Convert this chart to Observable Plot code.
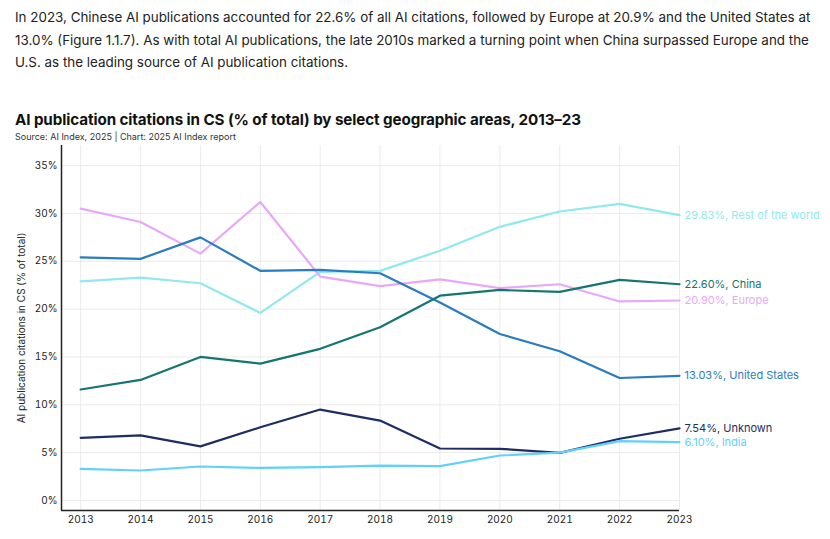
<!DOCTYPE html>
<html>
<head>
<meta charset="utf-8">
<script src="https://cdn.jsdelivr.net/npm/d3@7"></script>
<script src="https://cdn.jsdelivr.net/npm/@observablehq/plot@0.6"></script>
<style>
  body { margin: 0; background: #fff; font-family: Inter, "Open Sans", sans-serif; color: #222; }
  #para { position: absolute; left: 15px; top: 6px; width: 815px; font-size: 13.4px; line-height: 22.5px; color: #222; white-space: nowrap; }
  #title { position: absolute; left: 15px; top: 110px; font-size: 15.2px; font-weight: 700; color: #111; letter-spacing: -0.1px; }
  #source { position: absolute; left: 15px; top: 131px; font-size: 9px; color: #333; }
  #chart { position: absolute; left: 0; top: 143px; }
</style>
</head>
<body>
<div id="para">In 2023, Chinese AI publications accounted for 22.6% of all AI citations, followed by Europe at 20.9% and the United States at<br>13.0% (Figure 1.1.7). As with total AI publications, the late 2010s marked a turning point when China surpassed Europe and the<br>U.S. as the leading source of AI publication citations.</div>
<div id="title">AI publication citations in CS (% of total) by select geographic areas, 2013–23</div>
<div id="source">Source: AI Index, 2025 | Chart: 2025 AI Index report</div>
<div id="chart"></div>
<script>
const years = [2013, 2014, 2015, 2016, 2017, 2018, 2019, 2020, 2021, 2022, 2023];
const restOfWorld = [22.9, 23.3, 22.7, 19.6, 23.9, 24.0, 26.1, 28.6, 30.2, 31.0, 29.83];
const europe      = [30.5, 29.1, 25.8, 31.2, 23.4, 22.4, 23.1, 22.2, 22.6, 20.8, 20.90];
const unitedStates= [25.4, 25.25, 27.5, 24.0, 24.1, 23.75, 20.7, 17.4, 15.6, 12.8, 13.03];
const china       = [11.6, 12.6, 15.0, 14.3, 15.85, 18.1, 21.4, 22.0, 21.8, 23.05, 22.60];
const unknown     = [6.55, 6.8, 5.65, 7.65, 9.5, 8.35, 5.43, 5.4, 4.98, 6.45, 7.54];
const india       = [3.3, 3.13, 3.55, 3.4, 3.48, 3.65, 3.58, 4.7, 5.0, 6.2, 6.10];
const seriesNames = ["Rest of the world", "Europe", "United States", "China", "Unknown", "India"];
const seriesValues = [restOfWorld, europe, unitedStates, china, unknown, india];
const seriesColors = ["#8fe9ef", "#e8a8f9", "#2a7cc0", "#157571", "#1e2d62", "#62d0ff"];
const yTicks = [0, 5, 10, 15, 20, 25, 30, 35];

const data = seriesNames.flatMap((name, i) =>
  years.map((year, j) => ({ name, year, value: seriesValues[i][j] })));
const last = seriesNames.map((name, i) => ({ name, year: years[years.length - 1], value: seriesValues[i][years.length - 1] }));

const xDomain = [2012.68, 2023];
const yDomain = [-1.05, 37.1];

const chart = Plot.plot({
  width: 830,
  height: 390,
  marginLeft: 61,
  marginRight: 151,
  marginTop: 2,
  marginBottom: 23,
  style: { fontFamily: "Inter, 'Open Sans', sans-serif", fontSize: "10px", color: "#222", background: "#fff" },
  x: { type: "linear", domain: xDomain },
  y: { domain: yDomain },
  color: { domain: seriesNames, range: seriesColors },
  marks: [
    Plot.gridX(years, { stroke: "#e6e6e6", strokeOpacity: 1, strokeWidth: 0.8 }),
    Plot.gridY(yTicks, { stroke: "#e6e6e6", strokeOpacity: 1, strokeWidth: 0.8 }),
    Plot.axisX(years, { tickSize: 0, tickPadding: 5, tickFormat: d => String(d), label: null, fontSize: 10, fill: "#222" }),
    Plot.axisY(yTicks, { tickSize: 0, tickPadding: 4, tickFormat: d => d + "%", label: "AI publication citations in CS (% of total)", labelAnchor: "center", labelArrow: "none", labelOffset: 44, fontSize: 10, fill: "#222" }),
    Plot.ruleX([xDomain[0]], { y1: yDomain[0], y2: yDomain[1], stroke: "#222", strokeWidth: 1.5 }),
    Plot.ruleY([yDomain[0]], { x1: xDomain[0], x2: xDomain[1], stroke: "#222", strokeWidth: 1.5 }),
    Plot.line(data, { x: "year", y: "value", z: "name", stroke: "name", strokeWidth: 2.2 }),
    Plot.text(last, { x: "year", y: "value", fill: "name", text: d => d.value.toFixed(2) + "%, " + d.name, textAnchor: "start", dx: 5, fontSize: 11 })
  ]
});
document.getElementById("chart").appendChild(chart);
</script>
</body>
</html>
